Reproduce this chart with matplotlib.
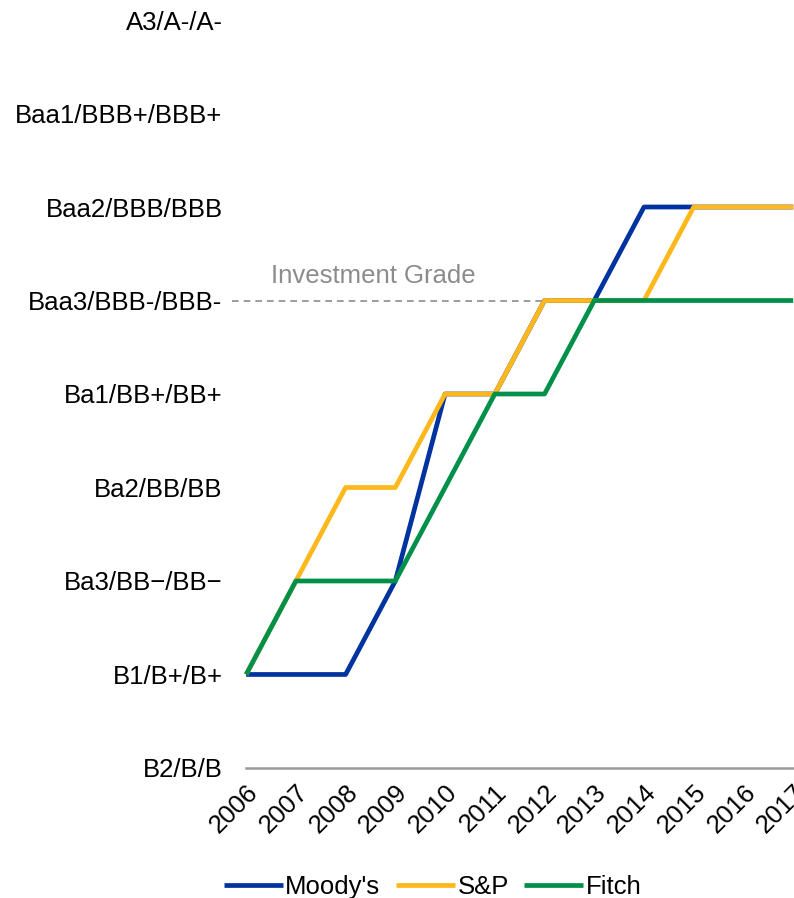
import numpy as np
import matplotlib.pyplot as plt

plt.rcParams['font.family'] = ['Liberation Sans', 'DejaVu Sans']

years = list(range(2006, 2018))
ratings = ['B2/B/B', 'B1/B+/B+', 'Ba3/BB\u2212/BB\u2212', 'Ba2/BB/BB', 'Ba1/BB+/BB+',
           'Baa3/BBB-/BBB-', 'Baa2/BBB/BBB', 'Baa1/BBB+/BBB+', 'A3/A-/A-']

moodys = [1, 1, 1, 2, 4, 4, 5, 5, 6, 6, 6, 6]
sp = [1, 2, 3, 3, 4, 4, 5, 5, 5, 6, 6, 6]
fitch = [1, 2, 2, 2, 3, 4, 4, 5, 5, 5, 5, 5]
investment_grade = 5

fs = 18.5

fig = plt.figure(figsize=(7.94, 8.98), dpi=100)
ax = fig.add_axes([0.31, 0.1448, 0.689, 0.8329])

ax.plot(years, moodys, color='#0033a0', lw=3.4, label="Moody's", clip_on=False, solid_capstyle='butt')
ax.plot(years, sp, color='#ffb81c', lw=3.4, label='S&P', clip_on=False, solid_capstyle='butt')
ax.plot(years, fitch, color='#00904a', lw=3.4, label='Fitch', clip_on=False, solid_capstyle='butt')

ax.plot([2005.72, 2017], [investment_grade, investment_grade], color='#8c8c8c', lw=1.2,
        ls=(0, (4, 3)), clip_on=False, zorder=0)
ax.text(2006.5, investment_grade + 0.13, 'Investment Grade', color='#8c8c8c', fontsize=fs,
        ha='left', va='bottom')

ax.set_xlim(2006, 2017)
ax.set_ylim(0, 8)
ax.set_yticks(range(len(ratings)))
ax.set_yticklabels(ratings, fontsize=fs)
ax.set_xticks(years)
ax.set_xticklabels([str(y) for y in years], fontsize=fs, rotation=45, ha='right',
                   rotation_mode='anchor')
ax.tick_params(axis='both', length=0)
ax.tick_params(axis='y', pad=17)
ax.tick_params(axis='x', pad=9)

for s in ['top', 'right', 'left']:
    ax.spines[s].set_visible(False)
ax.spines['bottom'].set_color('#9a9a9a')
ax.spines['bottom'].set_linewidth(1.8)

fig.legend(loc='lower center', bbox_to_anchor=(0.545, -0.027), ncol=3, frameon=False, fontsize=fs,
           handlelength=2.3, handletextpad=0.1, columnspacing=0.6)

fig.savefig('out.png', dpi=100)
